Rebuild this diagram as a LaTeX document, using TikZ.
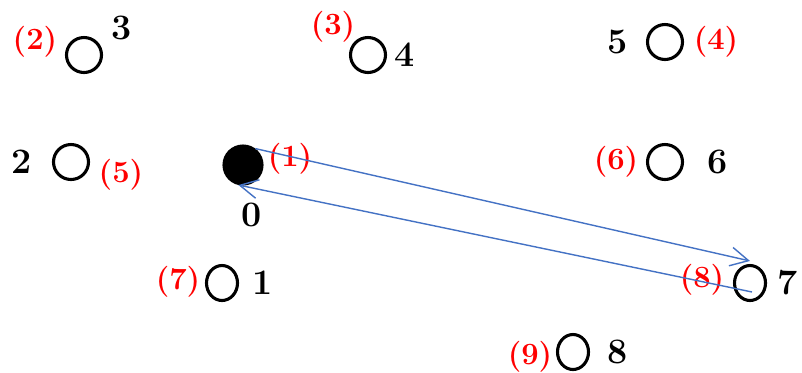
\documentclass[tikz,border=0pt]{standalone}
\usepackage{fontspec}
\usetikzlibrary{arrows.meta, shapes.geometric}
\definecolor{arrowblue}{RGB}{68,114,196}

\begin{document}
\begin{tikzpicture}[x=0.25mm, y=-0.25mm]
    \useasboundingbox (0,0) rectangle (802,372);
    \tikzset{
        vertex/.style={ellipse, draw=black, line width=2.2pt, minimum width=0.875cm, minimum height=0.875cm, inner sep=0pt},
        slim/.style={minimum width=0.775cm},
        num/.style={font=\fontsize{25.5}{29}\selectfont\bfseries, inner sep=0pt},
        ord/.style={font=\fontsize{22}{26}\selectfont\bfseries, text=red, inner sep=0pt},
        link/.style={draw=arrowblue, line width=1pt, -{Straight Barb[length=4.5mm, width=4.7mm]}},
    }
    % rings
    \foreach \n/\px/\py/\st in {3/84/55/, 4/368/55/, 5/665/42/, 2/71/162/, 6/665/162/, 1/222/283/slim, 7/750/283/slim, 8/573/352/slim}{
        \node [vertex, \st] (v-\n) at (\px, \py) {};
    }
    \node [vertex, fill=black, minimum size=0.95cm] (v-0) at (243, 165) {};
    % vertex numbers
    \foreach \n/\px/\py in {0/252/215, 1/263/283, 2/22/162, 3/122/28, 4/405/55, 5/618/42, 6/718/162, 7/788/283, 8/618/352}{
        \node [num] (num-\n) at (\px, \py) {\n};
    }
    % visiting order
    \foreach \k/\px/\py in {1/290/159, 2/35/42, 3/333/27, 4/716/42, 5/121/175, 6/616/162, 7/178/282, 8/702/280, 9/530/357}{
        \node [ord] (ord-\k) at (\px, \py) {(\k)};
    }
    \draw [link] (v-0.53) -- ([yshift=0.75mm]v-7.north);
    \draw [link] ([shift={(2,9)}]v-7.center) -- (v-0.257);
\end{tikzpicture}
\end{document}
